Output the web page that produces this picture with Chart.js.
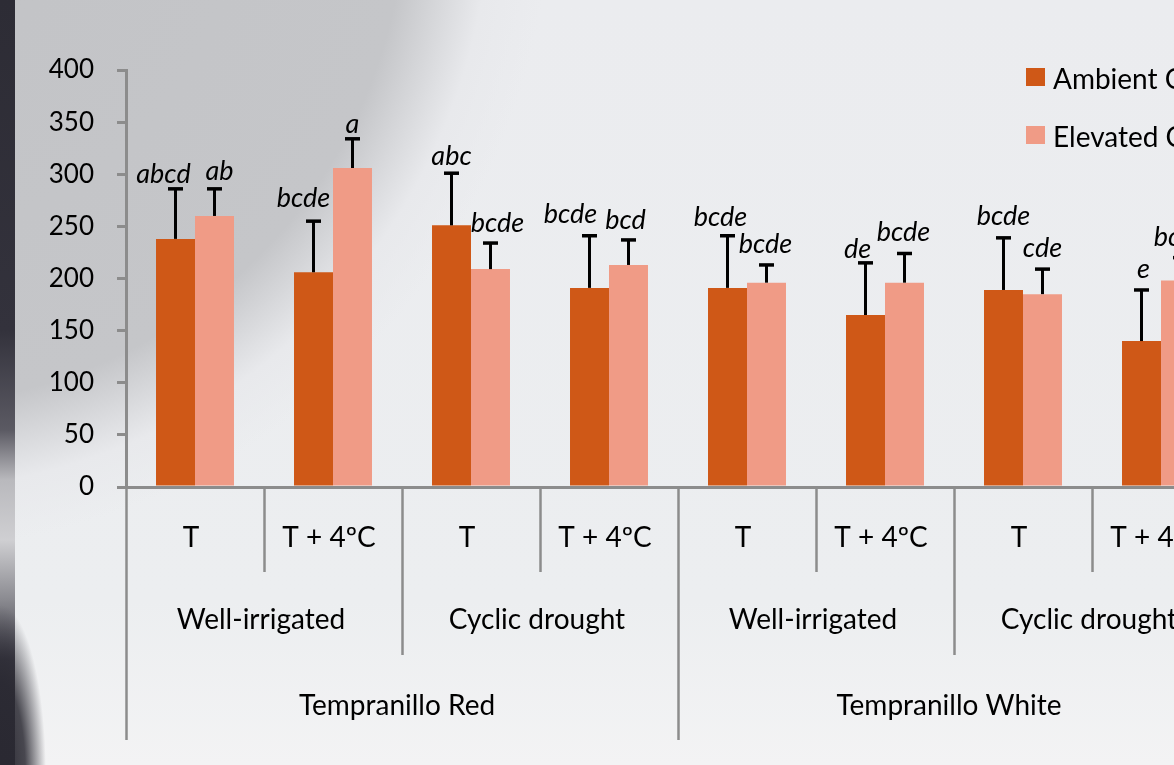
<!DOCTYPE html>
<html>
<head>
<meta charset="utf-8">
<title>Tempranillo – CO2 × temperature × irrigation</title>
<script src="https://cdn.jsdelivr.net/npm/chart.js@4.4.1/dist/chart.umd.min.js"></script>
<style>
  html, body { margin: 0; padding: 0; width: 1174px; height: 765px; overflow: hidden; }
  #stage {
    position: relative; width: 1174px; height: 765px; overflow: hidden;
    background:
      radial-gradient(circle at -100px -100px, #c2c3c6 0, #c5c6c9 505px, #e8e9ec 590px, rgba(236,237,240,0) 650px),
      linear-gradient(to bottom, #ebecef 0, #eceef0 600px, #f3f3f4 765px);
  }
  #edge {
    position: absolute; left: 0; top: 0; width: 15px; height: 765px;
    background: linear-gradient(to bottom, #2d2c35 0, #33323c 330px, #5b5a63 430px, #b9b9bd 480px,
      #cfcfd2 540px, #8a8a90 600px, #3a3943 660px, #2b2a33 765px);
  }
  #shade {
    position: absolute; left: 0; top: 560px; width: 70px; height: 205px;
    background: radial-gradient(ellipse 46px 170px at 0 215px, rgba(42,41,50,1) 0, rgba(42,41,50,0.85) 55%, rgba(42,41,50,0) 100%);
  }
  canvas { position: absolute; left: 0; top: 0; }
</style>
</head>
<body>
<div id="stage">
  <div id="edge"></div>
  <div id="shade"></div>
  <canvas id="chart" width="1330" height="765"></canvas>
</div>
<script>
// Temperature treatment for each bar pair
const categories = ['T', 'T + 4ºC', 'T', 'T + 4ºC', 'T', 'T + 4ºC', 'T', 'T + 4ºC'];
// Irrigation regime, each spanning two temperature treatments
const irrigationGroups = ['Well-irrigated', 'Cyclic drought', 'Well-irrigated', 'Cyclic drought'];
// Cultivar, each spanning four temperature treatments
const cultivarGroups = ['Tempranillo Red', 'Tempranillo White'];

const seriesNames = ['Ambient CO₂', 'Elevated CO₂'];

const ambientMeans = [238, 206, 251, 191, 191, 165, 189, 140];
const ambientErrors = [48, 49, 50, 50, 50, 50, 50, 49];
const ambientLetters = ['abcd', 'bcde', 'abc', 'bcde', 'bcde', 'de', 'bcde', 'e'];

const elevatedMeans = [260, 306, 209, 213, 196, 196, 185, 198];
const elevatedErrors = [26, 28, 25, 24, 17, 28, 24, 22];
const elevatedLetters = ['ab', 'a', 'bcde', 'bcd', 'bcde', 'bcde', 'cde', 'bcde'];

const yTickValues = [0, 50, 100, 150, 200, 250, 300, 350, 400];

const AXIS_GREY = '#8c8c8c';
const FONT = 'Lato';

// Hand placement of the significance letters: [horizontal shift, gap above the whisker] in px
const letterNudge = [
  [[-12, 6], [-10, 14], [0, 8], [-19, 13], [-7, 10], [-8, 5], [0, 13], [2, 12]],
  [[5, 9], [0, 6], [7, 11], [-3, 11], [-1, 12], [-1, 12], [0, 12], [0, 12]]
];

// Upper whiskers (mean + SE) with the significance letters above them
const errorBarsAndLetters = {
  id: 'errorBarsAndLetters',
  afterDatasetsDraw(chart) {
    const ctx = chart.ctx;
    const y = chart.scales.y;
    chart.data.datasets.forEach((ds, di) => {
      const meta = chart.getDatasetMeta(di);
      meta.data.forEach((bar, i) => {
        const top = y.getPixelForValue(ds.data[i] + ds.errorUp[i]);
        ctx.save();
        ctx.strokeStyle = '#000';
        ctx.lineWidth = 3;
        ctx.beginPath();
        ctx.moveTo(bar.x, bar.y);
        ctx.lineTo(bar.x, top);
        ctx.stroke();
        ctx.lineWidth = 3.5;
        ctx.beginPath();
        ctx.moveTo(bar.x - 7.5, top);
        ctx.lineTo(bar.x + 7.5, top);
        ctx.stroke();
        const n = letterNudge[di][i];
        ctx.font = 'italic 27px ' + FONT;
        ctx.fillStyle = '#000';
        ctx.textAlign = 'center';
        ctx.textBaseline = 'alphabetic';
        ctx.fillText(ds.letters[i], bar.x + n[0], top - n[1]);
        ctx.restore();
      });
    });
  }
};

// Three-tier category axis: temperature / irrigation / cultivar, with divider lines
const categoryTiers = {
  id: 'categoryTiers',
  afterDraw(chart) {
    const ctx = chart.ctx;
    const x = chart.scales.x;
    const area = chart.chartArea;
    const step = x.getPixelForValue(1) - x.getPixelForValue(0);
    const leftEdge = i => x.getPixelForValue(i) - step / 2;
    const n = categories.length;

    ctx.save();
    ctx.strokeStyle = AXIS_GREY;
    ctx.lineWidth = 2.5;
    for (let k = 0; k <= n; k++) {
      let depth = 85;
      if (k % 4 === 0) depth = 253;
      else if (k % 2 === 0) depth = 168;
      const px = Math.round(leftEdge(k)) + 0.5;
      ctx.beginPath();
      ctx.moveTo(px, area.bottom);
      ctx.lineTo(px, area.bottom + depth);
      ctx.stroke();
    }

    ctx.fillStyle = '#000';
    ctx.font = '28px ' + FONT;
    ctx.textAlign = 'center';
    ctx.textBaseline = 'alphabetic';
    categories.forEach((lab, i) => {
      ctx.fillText(lab, x.getPixelForValue(i) - 4, area.bottom + 60);
    });
    irrigationGroups.forEach((lab, g) => {
      const cx = (leftEdge(g * 2) + leftEdge(g * 2 + 2)) / 2;
      ctx.fillText(lab, cx - 3, area.bottom + 142);
    });
    cultivarGroups.forEach((lab, g) => {
      const cx = (leftEdge(g * 4) + leftEdge(g * 4 + 4)) / 2;
      ctx.fillText(lab, cx - 5, area.bottom + 228);
    });
    ctx.restore();
  }
};

// Legend in the upper right corner of the plot
const cornerLegend = {
  id: 'cornerLegend',
  afterDraw(chart) {
    const ctx = chart.ctx;
    const area = chart.chartArea;
    const x0 = area.left + 900;
    ctx.save();
    ctx.font = '28px ' + FONT;
    ctx.textAlign = 'left';
    ctx.textBaseline = 'alphabetic';
    chart.data.datasets.forEach((ds, di) => {
      const top = 68 + di * 58;
      ctx.fillStyle = ds.backgroundColor;
      ctx.fillRect(x0, top, 19, 18);
      ctx.fillStyle = '#000';
      ctx.fillText(ds.label, x0 + 27, top + 21);
    });
    ctx.restore();
  }
};

Chart.defaults.font.family = FONT;
Chart.defaults.color = '#000';

new Chart(document.getElementById('chart'), {
  type: 'bar',
  data: {
    labels: categories,
    datasets: [
      {
        label: seriesNames[0],
        data: ambientMeans,
        errorUp: ambientErrors,
        letters: ambientLetters,
        backgroundColor: '#CF5817',
        borderWidth: 0
      },
      {
        label: seriesNames[1],
        data: elevatedMeans,
        errorUp: elevatedErrors,
        letters: elevatedLetters,
        backgroundColor: '#F09B86',
        borderWidth: 0
      }
    ]
  },
  options: {
    responsive: false,
    animation: false,
    layout: { padding: { top: 70, right: 100, bottom: 0, left: 0 } },
    datasets: { bar: { categoryPercentage: 0.565, barPercentage: 1.0 } },
    plugins: {
      legend: { display: false },
      tooltip: { enabled: false }
    },
    scales: {
      x: {
        type: 'category',
        offset: true,
        grid: { display: true, drawOnChartArea: false, drawTicks: false, color: 'rgba(0,0,0,0)' },
        border: { display: true, color: AXIS_GREY, width: 3 },
        ticks: { display: false },
        afterFit(scale) { scale.height = 278; }
      },
      y: {
        min: 0,
        max: 400,
        afterBuildTicks(scale) { scale.ticks = yTickValues.map(v => ({ value: v })); },
        ticks: { font: { size: 26, family: FONT }, color: '#000', padding: 23 },
        grid: { drawOnChartArea: false, drawTicks: true, tickLength: 9, lineWidth: 3, color: AXIS_GREY },
        border: { display: true, color: AXIS_GREY, width: 3 },
        afterFit(scale) { scale.width = 126; }
      }
    }
  },
  plugins: [errorBarsAndLetters, categoryTiers, cornerLegend]
});
</script>
</body>
</html>
